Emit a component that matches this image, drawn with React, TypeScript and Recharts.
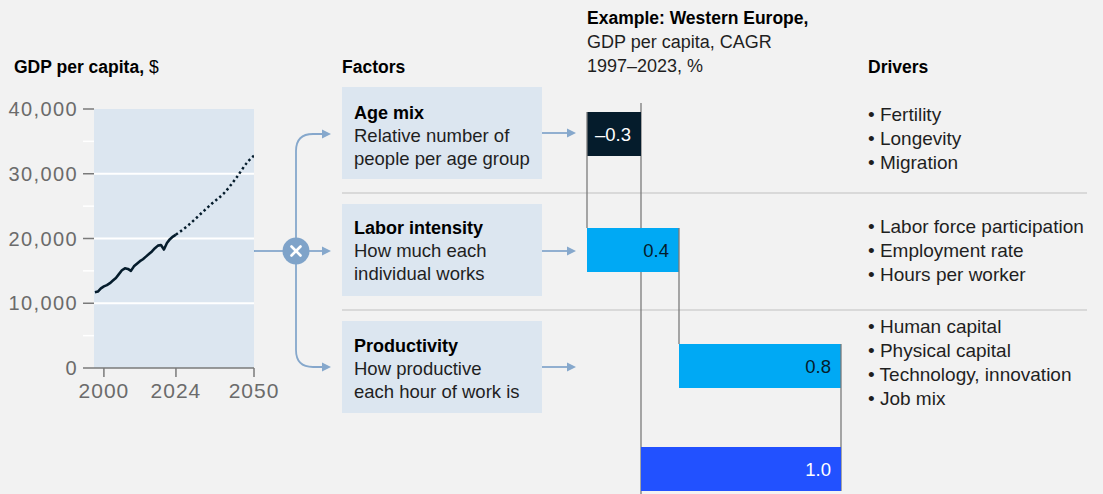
import React from "react";
import { ComposedChart, Line, XAxis, YAxis, CartesianGrid, BarChart, Bar } from "recharts";

const FONT = '"Liberation Sans", Arial, Helvetica, sans-serif';
const INK = "#051c2c";
const TEXT = "#1f1f1f";
const LINK = "#86a8cc";
const BOX = "#dce6f0";
const AXIS = "#7a7a7a";
const LABEL = "#6b6b6b";
const RULE = "#d9d9d9";

// GDP per capita, $ (Western Europe, history + projection)
const historyYears = [
  1997, 1998, 1999, 2000, 2001, 2002, 2003, 2004, 2005, 2006, 2007, 2008, 2009, 2010,
  2011, 2012, 2013, 2014, 2015, 2016, 2017, 2018, 2019, 2020, 2021, 2022, 2023, 2024,
];
const historyGdp = [
  11700, 11800, 12300, 12600, 12800, 13100, 13500, 13900, 14500, 15100, 15400, 15300, 15000, 15700,
  16100, 16500, 16800, 17200, 17600, 18000, 18500, 18900, 19000, 18300, 19300, 19900, 20300, 20600,
];
const projectionYears = [2024, 2028, 2032, 2036, 2040, 2044, 2048, 2050];
const projectionGdp = [20600, 22000, 23700, 25400, 27000, 29300, 31900, 32800];
const gdpTicks = [0, 5000, 10000, 15000, 20000, 25000, 30000, 35000, 40000];
const gdpGrid = [10000, 20000, 30000];
const yearTicks = [2000, 2024, 2050];

// CAGR 1997–2023, %
const factorNames = ["Age mix", "Labor intensity", "Productivity"];
const factorCagr = [-0.27, 0.46, 0.81];
const factorLabels = ["–0.3", "0.4", "0.8"];
const totalName = "GDP per capita";
const totalCagr = 1.0;
const totalLabel = "1.0";

const factorDescriptions = [
  ["Relative number of", "people per age group"],
  ["How much each", "individual works"],
  ["How productive", "each hour of work is"],
];
const drivers = [
  ["Fertility", "Longevity", "Migration"],
  ["Labor force participation", "Employment rate", "Hours per worker"],
  ["Human capital", "Physical capital", "Technology, innovation", "Job mix"],
];

const factorColors = [INK, "#00a9f4", "#00a9f4"];
const factorTextColors = ["#ffffff", INK, INK];
const totalColor = "#2251ff";

const gdpRows = (() => {
  const rows = new Map<number, any>();
  historyYears.forEach((year, i) => rows.set(year, { year, actual: historyGdp[i] }));
  projectionYears.forEach((year, i) =>
    rows.set(year, { ...(rows.get(year) || { year }), projected: projectionGdp[i] })
  );
  return [...rows.values()].sort((a, b) => a.year - b.year);
})();

let running = 0;
const factorRows = factorNames.map((name, i) => {
  const start = running;
  const end = start + factorCagr[i];
  running = end;
  return { name, range: [Math.min(start, end), Math.max(start, end)], end, label: factorLabels[i], i };
});
const totalRows = [{ name: totalName, range: [0, totalCagr], end: totalCagr, label: totalLabel, i: 0 }];

const BAR_SIZE = 44;
const FACTOR_H = 348;
const TOTAL_H = 90;
const FACTOR_STEP = FACTOR_H / factorNames.length;
const AXIS_OVERHANG = 9;
const WF_DOMAIN: [number, number] = [-0.3, 1.05];

const GDP_TICK_SIZE = 11;
const GDP_TICK_MARGIN = 5;

function GdpTick({ x, y, payload }: any) {
  const major = payload.value % 10000 === 0;
  const x1 = x + GDP_TICK_MARGIN;
  return (
    <g>
      <line x1={x1} x2={x1 + GDP_TICK_SIZE} y1={y} y2={y} stroke={major ? AXIS : "#ffffff"} strokeWidth={1.5} />
      {major && (
        <text x={x} y={y} dy="0.36em" textAnchor="end" fontSize={20} fill={LABEL} letterSpacing={1.4} fontFamily={FONT}>
          {payload.value.toLocaleString("en-US")}
        </text>
      )}
    </g>
  );
}

function YearTick({ x, y, payload }: any) {
  return (
    <text x={x} y={y} dy="0.71em" textAnchor="middle" fontSize={21} fill={LABEL} letterSpacing={1} fontFamily={FONT}>
      {payload.value}
    </text>
  );
}

function barGeometry(props: any) {
  const { x, y, width, height, payload } = props;
  const [lo, hi] = payload.range;
  const unit = width / (hi - lo);
  const at = (v: number) => x + (v - lo) * unit;
  return { x, y, width, height, payload, zeroX: at(0), endX: at(payload.end) };
}

function BarLabel({ x, y, width, height, text, color }: any) {
  return (
    <text x={x + width - 10} y={y + height / 2} dy="0.36em" textAnchor="end" fontSize={18.5} fill={color} fontFamily={FONT}>
      {text}
    </text>
  );
}

function FactorBar(props: any) {
  const { x, y, width, height, payload, zeroX, endX } = barGeometry(props);
  const halfGap = (FACTOR_STEP - height) / 2;
  const last = payload.i === factorNames.length - 1;
  const zeroTop = payload.i === 0 ? y - AXIS_OVERHANG : y - halfGap;
  return (
    <g>
      <line x1={zeroX} x2={zeroX} y1={zeroTop} y2={y + height + halfGap} stroke={AXIS} strokeWidth={1.3} />
      <rect x={x} y={y} width={width} height={height} fill={factorColors[payload.i]} />
      <line x1={endX} x2={endX} y1={y} y2={y + height + (last ? halfGap : 2 * halfGap)} stroke={AXIS} strokeWidth={1.3} />
      <BarLabel x={x} y={y} width={width} height={height} text={payload.label} color={factorTextColors[payload.i]} />
    </g>
  );
}

function TotalBar(props: any) {
  const { x, y, width, height, payload, zeroX, endX } = barGeometry(props);
  const halfGap = (TOTAL_H - height) / 2;
  return (
    <g>
      <line x1={zeroX} x2={zeroX} y1={y - halfGap} y2={y + height + halfGap} stroke={AXIS} strokeWidth={1.3} />
      <line x1={endX} x2={endX} y1={y - halfGap} y2={y + height} stroke={AXIS} strokeWidth={1.3} />
      <rect x={x} y={y} width={width} height={height} fill={totalColor} />
      <BarLabel x={x} y={y} width={width} height={height} text={payload.label} color="#ffffff" />
    </g>
  );
}

function Arrow({ x1, x2, y }: { x1: number; x2: number; y: number }) {
  return (
    <g>
      <line x1={x1} x2={x2 - 8} y1={y} y2={y} stroke={LINK} strokeWidth={1.8} />
      <path d={`M ${x2} ${y} L ${x2 - 9} ${y - 4.5} L ${x2 - 9} ${y + 4.5} Z`} fill={LINK} />
    </g>
  );
}

const rowCenters = [134, 251, 367];
const boxTops = [87, 204, 321];
const boxTitleBase = [119, 234, 352];
const driverBase = [121, 233, 333];

export default function App() {
  return (
    <div
      style={{
        position: "absolute",
        left: 0,
        top: 0,
        width: 1103,
        height: 494,
        overflow: "hidden",
        background: "#f2f2f2",
        fontFamily: FONT,
      }}
    >
      <svg width={1103} height={494} style={{ position: "absolute", left: 0, top: 0 }} fontFamily={FONT}>
        {/* headers */}
        <text x={14} y={73} fontSize={17.5} fill="#000">
          <tspan fontWeight="bold">GDP per capita,</tspan>
          <tspan> $</tspan>
        </text>
        <text x={342} y={73} fontSize={17.5} fontWeight="bold" fill="#000">Factors</text>
        <text x={868} y={73} fontSize={17.5} fontWeight="bold" fill="#000">Drivers</text>
        <text x={587} y={24} fontSize={17.5} fontWeight="bold" fill="#000">Example: Western Europe,</text>
        <text x={587} y={48} fontSize={18} fill={TEXT}>GDP per capita, CAGR</text>
        <text x={587} y={72} fontSize={18} fill={TEXT}>1997–2023, %</text>

        {/* row separators */}
        <line x1={342} x2={1087} y1={193} y2={193} stroke={RULE} strokeWidth={2} />
        <line x1={342} x2={1087} y1={310} y2={310} stroke={RULE} strokeWidth={2} />

        {/* branching connector */}
        <line x1={254} x2={283} y1={251} y2={251} stroke={LINK} strokeWidth={1.8} />
        <path d="M 296 251 L 296 151 Q 296 134 313 134 L 324 134" fill="none" stroke={LINK} strokeWidth={1.8} />
        <path d="M 296 251 L 296 350 Q 296 367 313 367 L 324 367" fill="none" stroke={LINK} strokeWidth={1.8} />
        <Arrow x1={313} x2={331} y={134} />
        <Arrow x1={309} x2={331} y={251} />
        <Arrow x1={313} x2={331} y={367} />
        <circle cx={296} cy={251} r={13.5} fill="#7fa3c9" />
        <path d="M 291.5 246.5 L 300.5 255.5 M 300.5 246.5 L 291.5 255.5" stroke="#ffffff" strokeWidth={2.6} strokeLinecap="round" />

        {/* factor boxes */}
        {factorNames.map((name, i) => (
          <g key={name}>
            <rect x={342} y={boxTops[i]} width={200} height={92} fill={BOX} />
            <text x={354} y={boxTitleBase[i]} fontSize={18} fontWeight="bold" fill="#000">{name}</text>
            {factorDescriptions[i].map((line, j) => (
              <text key={line} x={354} y={boxTitleBase[i] + 23 * (j + 1)} fontSize={18.5} fill={TEXT}>{line}</text>
            ))}
            <Arrow x1={542} x2={576} y={rowCenters[i] - (i === 0 ? 1 : 0)} />
          </g>
        ))}

        {/* drivers */}
        {drivers.map((list, i) =>
          list.map((d, j) => (
            <text key={d} x={868} y={driverBase[i] + 24 * j} fontSize={19} fill={TEXT}>
              {"• " + d}
            </text>
          ))
        )}
      </svg>

      <div style={{ position: "absolute", left: 0, top: 0 }}>
        <ComposedChart width={300} height={410} data={gdpRows} margin={{ top: 109, right: 46, bottom: 10, left: 0 }}>
          <CartesianGrid fill={BOX} stroke="#ffffff" strokeWidth={2} vertical={false} horizontalValues={gdpGrid} />
          <XAxis
            type="number"
            dataKey="year"
            domain={[1996.7, 2050]}
            ticks={yearTicks}
            interval={0}
            allowDataOverflow
            height={32}
            tickSize={9}
            tickMargin={6}
            axisLine={{ stroke: AXIS, strokeWidth: 1.5 }}
            tickLine={{ stroke: AXIS, strokeWidth: 1.5 }}
            tick={<YearTick />}
          />
          <YAxis
            type="number"
            domain={[0, 40000]}
            ticks={gdpTicks}
            interval={0}
            allowDataOverflow
            width={94}
            tickSize={GDP_TICK_SIZE}
            tickMargin={GDP_TICK_MARGIN}
            axisLine={false}
            tickLine={false}
            tick={<GdpTick />}
          />
          <Line
            dataKey="actual"
            connectNulls
            dot={false}
            stroke={INK}
            strokeWidth={2.6}
            strokeLinejoin="round"
            isAnimationActive={false}
          />
          <Line
            dataKey="projected"
            connectNulls
            dot={false}
            stroke={INK}
            strokeWidth={2.5}
            strokeDasharray="2.4 2.8"
            type="monotone"
            isAnimationActive={false}
          />
        </ComposedChart>
      </div>

      <div style={{ position: "absolute", left: 581, top: 76 }}>
        <BarChart layout="vertical" width={270} height={FACTOR_H} data={factorRows} margin={{ top: 0, right: 0, bottom: 0, left: 0 }}>
          <XAxis type="number" hide domain={WF_DOMAIN} allowDataOverflow />
          <YAxis type="category" dataKey="name" hide />
          <Bar dataKey="range" barSize={BAR_SIZE} shape={(p: any) => <FactorBar {...p} />} isAnimationActive={false} />
        </BarChart>
      </div>

      <div style={{ position: "absolute", left: 581, top: 76 + FACTOR_H }}>
        <BarChart layout="vertical" width={270} height={TOTAL_H} data={totalRows} margin={{ top: 0, right: 0, bottom: 0, left: 0 }}>
          <XAxis type="number" hide domain={WF_DOMAIN} allowDataOverflow />
          <YAxis type="category" dataKey="name" hide />
          <Bar dataKey="range" barSize={BAR_SIZE} shape={(p: any) => <TotalBar {...p} />} isAnimationActive={false} />
        </BarChart>
      </div>
    </div>
  );
}
